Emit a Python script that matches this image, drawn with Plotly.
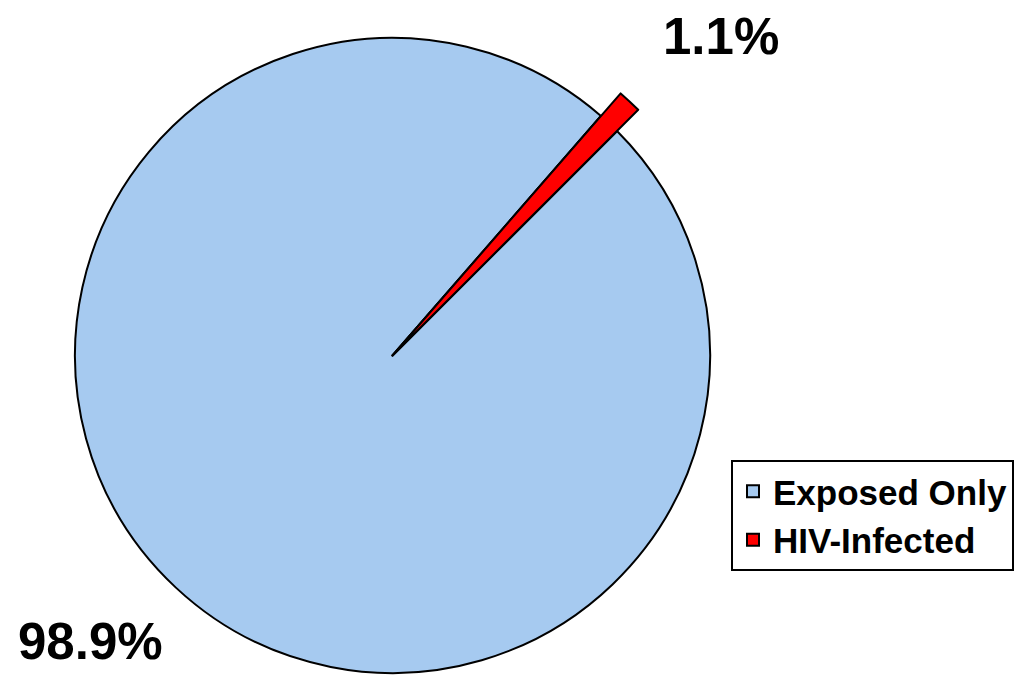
import plotly.graph_objects as go

# ---- data ----
labels = ["Exposed Only", "HIV-Infected"]
values = [98.9, 1.1]
colors = ["#A6CAF0", "#FF0000"]
pct_text = ["98.9%", "1.1%"]

# ---- layout constants (figure pixels; page adds an 8px body margin) ----
W, H = 1024, 711
off = 8
cx, cy, r = 392.5 - off, 355.5 - off, 317.5   # main pie
r2 = min(cy, H - cy)                           # enlarged radius for highlighted slice
rotation = 45
FONT = "Liberation Sans, Arial, sans-serif"


def dom(rad):
    return dict(x=[(cx - rad) / W, (cx + rad) / W],
                y=[1 - (cy + rad) / H, 1 - (cy - rad) / H])


fig = go.Figure()
fig.add_trace(go.Pie(
    labels=labels, values=values, sort=False, direction="clockwise",
    rotation=rotation, domain=dom(r), textinfo="none",
    marker=dict(colors=colors, line=dict(color="black", width=2)),
    showlegend=True,
))
fig.add_trace(go.Pie(
    labels=labels, values=values, sort=False, direction="clockwise",
    rotation=rotation, domain=dom(r2), textinfo="none",
    marker=dict(colors=["rgba(0,0,0,0)", colors[1]],
                line=dict(color=["rgba(0,0,0,0)", "black"], width=[0, 2])),
    showlegend=False,
))

label_pos = [(90.5, 641.5), (721, 37)]
for txt, (px, py) in zip(pct_text, label_pos):
    fig.add_annotation(text=txt, x=(px - off) / W, y=1 - (py - off) / H,
                       xref="paper", yref="paper", showarrow=False,
                       xanchor="center", yanchor="middle", borderpad=0,
                       font=dict(family=FONT, size=51, color="black", weight="bold"))

fig.update_layout(
    width=W, height=H,
    margin=dict(l=0, r=0, t=0, b=0),
    paper_bgcolor="white", plot_bgcolor="white",
    font=dict(family=FONT, color="black"),
    legend=dict(x=(731 - off) / W, y=1 - (460 - off) / H, xanchor="left", yanchor="top",
                bordercolor="black", borderwidth=2, bgcolor="white",
                font=dict(size=35, family=FONT, color="black", weight="bold"),
                traceorder="normal"),
)
fig.update_traces(hoverinfo="label+percent")
fig.write_html("out.html")
